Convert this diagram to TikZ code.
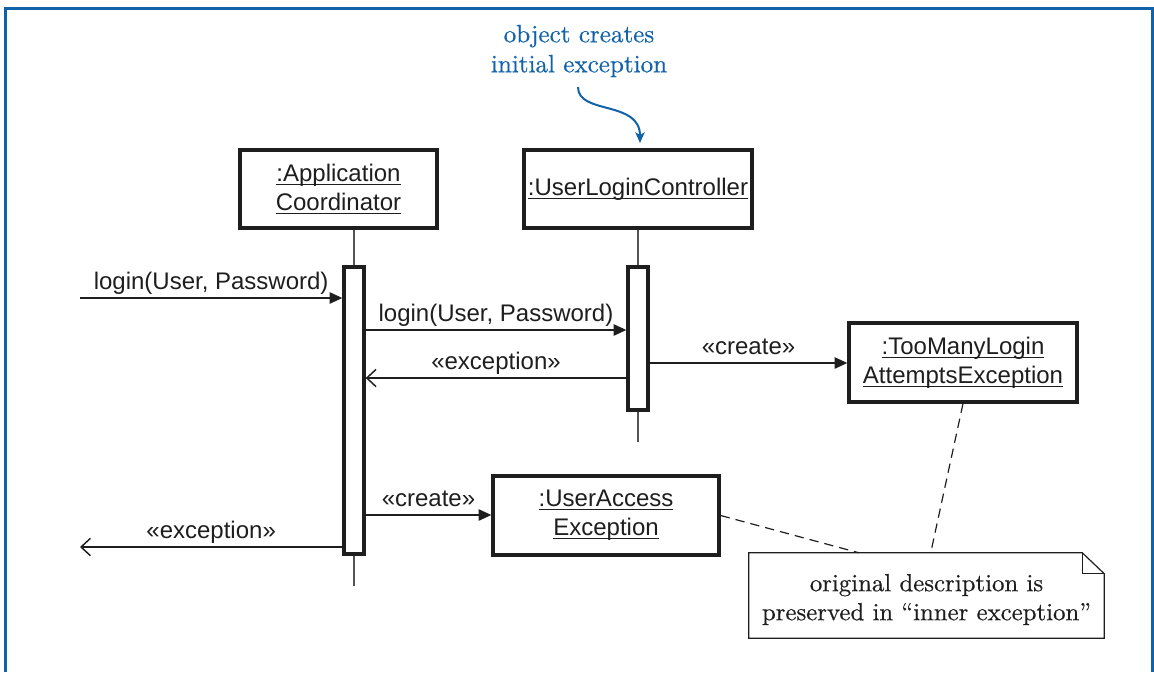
\documentclass[tikz,border=0pt]{standalone}
\usepackage{fontspec}
\newfontfamily\sansf{Liberation Sans}
\newfontfamily\serifb{lmroman10-regular.otf}[FakeBold=0.5]
\usetikzlibrary{arrows.meta,calc}
\definecolor{frameblue}{RGB}{18,98,170}
\definecolor{ink}{RGB}{30,30,30}
\definecolor{lifegray}{RGB}{85,85,85}
\newcommand\uln[1]{\leavevmode\setbox0\hbox{#1}\rlap{\rule[-2.6pt]{\wd0}{0.8pt}}\box0}
\tikzset{
  x=0.75pt, y=-0.75pt,
  frame/.style={draw=frameblue, line width=2.3pt},
  obj/.style={draw=ink, line width=2.5pt, rectangle, inner sep=0pt, align=center,
    font=\sansf\fontsize{18}{21.75}\selectfont, text=ink},
  act/.style={draw=ink, line width=2.5pt, fill=white, inner sep=0pt, rectangle, minimum width=15pt},
  life/.style={draw=lifegray, line width=1.1pt},
  msg/.style={draw=ink, line width=1.1pt, -{Triangle[length=9.5pt,width=8.5pt]}},
  ret/.style={draw=ink, line width=1.1pt, -{Straight Barb[length=7pt,width=13pt]}},
  lbl/.style={font=\sansf\fontsize{18}{21}\selectfont, anchor=base, inner sep=0pt, text=ink},
  notelink/.style={draw=ink, line width=0.9pt, dash pattern=on 7pt off 4.5pt},
  noteline/.style={draw=ink, line width=0.9pt},
  notetext/.style={align=center, font=\serifb\fontsize{18.6}{21.75}\selectfont, text=ink},
  bluetext/.style={align=center, font=\serifb\fontsize{18.8}{22.5}\selectfont, text=frameblue},
  bluearr/.style={draw=frameblue, line width=1.5pt, -{Stealth[length=8pt,width=7pt,inset=2pt]}}
}
\begin{document}
\begin{tikzpicture}
\useasboundingbox (0,0) rectangle (1154,672);
% frame
\draw[frame] (5.5,672) -- (5.5,8.5) -- (1152.5,8.5) -- (1152.5,672);

% object boxes
\node[obj, minimum width=147.75pt, minimum height=58.5pt] (acbox) at (338.5,189)
  {\uln{:Application}\\\uln{Coordinator}};
\node[obj, minimum width=171pt, minimum height=58.5pt] (ulcbox) at (638,189)
  {\uln{:UserLoginController}};
\node[obj, minimum width=171pt, minimum height=59.25pt] (tm) at (963,362.5)
  {\uln{:TooManyLogin}\\\uln{AttemptsException}};
\node[obj, minimum width=169.5pt, minimum height=59.25pt] (ua) at (606,515.5)
  {\uln{:UserAccess}\\\uln{Exception}};

% lifelines
\coordinate (acend) at (354,586);
\coordinate (ulcend) at (638,442);
\draw[life] (acend |- acbox.south) -- (acend);
\draw[life] (ulcend |- ulcbox.south) -- (ulcend);

% activations
\node[act, minimum height=215.25pt] (acact) at (354,410.5) {};
\node[act, minimum height=107.25pt] (ulcact) at (638,338.5) {};

% message levels
\coordinate (in1) at (80,298);
\coordinate (y2) at (0,330);
\coordinate (yr1) at (0,378);
\coordinate (yc1) at (0,363);
\coordinate (yc2) at (0,515);
\coordinate (out2) at (80,547);

\draw[msg] (in1) -- (in1 -| acact.west)
  node[lbl, midway, yshift=6.75pt] {login(User, Password)};
\draw[msg] (acact.east |- y2) -- (ulcact.west |- y2)
  node[lbl, midway, yshift=6.75pt] {login(User, Password)};
\draw[ret] (ulcact.west |- yr1) -- (acact.east |- yr1)
  node[lbl, midway, yshift=6.75pt] {«exception»};
\draw[msg] (ulcact.east |- yc1) -- (tm.west |- yc1)
  node[lbl, midway, yshift=6.75pt] {«create»};
\draw[msg] (acact.east |- yc2) -- (ua.west |- yc2)
  node[lbl, midway, yshift=6.75pt] {«create»};
\draw[ret] (acact.west |- out2) -- (out2)
  node[lbl, midway, yshift=6.75pt] {«exception»};

% note
\node[minimum width=266.25pt, minimum height=63.75pt, inner sep=0pt] (note) at (926.5,595.5) {};
\draw[noteline] (note.north west) -- ($(note.north east)+(-22,0)$) -- ($(note.north east)+(0,21)$)
  -- (note.south east) -- (note.south west) -- cycle;
\draw[noteline] ($(note.north east)+(-22,0)$) -- ($(note.north east)+(-22,21)$) -- ($(note.north east)+(0,21)$);
\node[notetext] (notetxt) at ($(note.center)+(0,4)$) {original description is\\preserved in “inner exception”};
\draw[notelink] (ua.east) -- ($(note.north west)+(110,0)$);
\draw[notelink] (tm.south) -- ($(note.north west)+(182,0)$);

% annotation
\node[bluetext] (ann) at (579,51) {object creates\\initial exception};
\coordinate (annstart) at (578,87);
\coordinate (annend) at (640,143);
\draw[bluearr] (annstart) .. controls (578,115) and (640,100) .. (annend);
\end{tikzpicture}
\end{document}
